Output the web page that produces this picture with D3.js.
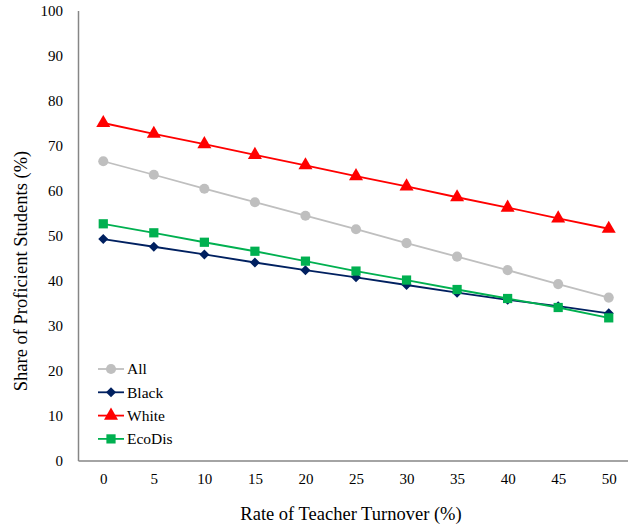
<!DOCTYPE html>
<html>
<head>
<meta charset="utf-8">
<script src="https://cdn.jsdelivr.net/npm/d3@7"></script>
<style>
  html, body { margin: 0; padding: 0; background: #fff; }
  svg { display: block; }
  svg text { font-family: 'Liberation Serif', 'Times New Roman', 'DejaVu Serif', serif !important; fill: #000; }
</style>
</head>
<body>
<svg id="chart" width="628" height="527"></svg>
<script>
// Turnover rate (%) on the x axis
const turnover = [0, 5, 10, 15, 20, 25, 30, 35, 40, 45, 50];
// Share of proficient students (%) per group
const allStudents = [66.5, 63.5, 60.4, 57.4, 54.4, 51.4, 48.3, 45.3, 42.3, 39.2, 36.2];
const black       = [49.2, 47.5, 45.8, 44.0, 42.3, 40.7, 39.0, 37.3, 35.7, 34.3, 32.7];
const white       = [75.0, 72.6, 70.3, 67.9, 65.6, 63.2, 60.9, 58.5, 56.2, 53.8, 51.5];
const ecoDis      = [52.6, 50.6, 48.5, 46.5, 44.3, 42.1, 40.1, 38.0, 36.0, 34.0, 31.7];
const yTicks = [0, 10, 20, 30, 40, 50, 60, 70, 80, 90, 100];

// Black uses a square turned 45° so the diamond is as wide as it is tall
const series = [
  { name: "All",    values: allStudents, color: "#BFBFBF", symbol: d3.symbolCircle,   size: 80, rot: 0 },
  { name: "Black",  values: black,       color: "#002060", symbol: d3.symbolSquare,   size: 50, rot: 45 },
  { name: "White",  values: white,       color: "#FF0000", symbol: d3.symbolTriangle, size: 85, rot: 0 },
  { name: "EcoDis", values: ecoDis,      color: "#00B050", symbol: d3.symbolSquare,   size: 85, rot: 0 }
];

const svg = d3.select("#chart");
const plotLeft = 78, plotBottom = 460.5, plotTop = 10.5, plotRight = 634;

// Categories sit between tick marks, half a step in from each end
const x = d3.scaleLinear().domain([-2.5, 52.5]).range([plotLeft, plotRight]);
const y = d3.scaleLinear().domain([0, 100]).range([plotBottom, plotTop]);

// Axes
svg.append("g")
  .attr("transform", `translate(0,${plotBottom})`)
  .call(d3.axisBottom(x).tickValues(turnover).tickSize(0).tickPadding(13))
  .call(g => g.attr("font-family", null).attr("font-size", 15))
  .call(g => g.select(".domain").attr("stroke", "#868686").attr("stroke-width", 1.5));

svg.append("g")
  .attr("transform", `translate(${plotLeft},0)`)
  .call(d3.axisLeft(y).tickValues(yTicks).tickSize(0).tickPadding(15))
  .call(g => g.attr("font-family", null).attr("font-size", 15))
  .call(g => g.select(".domain").attr("stroke", "#868686").attr("stroke-width", 1.5));

// Axis titles
svg.append("text")
  .attr("x", 351).attr("y", 520)
  .attr("text-anchor", "middle")
  .attr("font-size", 18.5)
  .text("Rate of Teacher Turnover (%)");

svg.append("text")
  .attr("transform", "translate(27,271) rotate(-90)")
  .attr("text-anchor", "middle")
  .attr("font-size", 18.5)
  .text("Share of Proficient Students (%)");

// Lines and markers
const line = d3.line().x((d, i) => x(turnover[i])).y(d => y(d));

series.forEach(s => {
  const g = svg.append("g");
  g.append("path")
    .attr("d", line(s.values))
    .attr("fill", "none")
    .attr("stroke", s.color)
    .attr("stroke-width", 1.8);
  g.selectAll("path.m")
    .data(s.values)
    .join("path")
    .attr("class", "m")
    .attr("d", d3.symbol().type(s.symbol).size(s.size))
    .attr("transform", (d, i) => `translate(${x(turnover[i])},${y(d)}) rotate(${s.rot})`)
    .attr("fill", s.color);
});

// Legend
const legend = svg.append("g");
series.forEach((s, i) => {
  const cy = 369 + i * 23.3;
  legend.append("line")
    .attr("x1", 98).attr("x2", 124).attr("y1", cy).attr("y2", cy)
    .attr("stroke", s.color).attr("stroke-width", 1.8);
  legend.append("path")
    .attr("d", d3.symbol().type(s.symbol).size(s.size)())
    .attr("transform", `translate(111,${cy}) rotate(${s.rot})`)
    .attr("fill", s.color);
  legend.append("text")
    .attr("x", 127).attr("y", cy)
    .attr("dy", "0.35em")
    .attr("font-size", 15.5)
    .text(s.name);
});
</script>
</body>
</html>
